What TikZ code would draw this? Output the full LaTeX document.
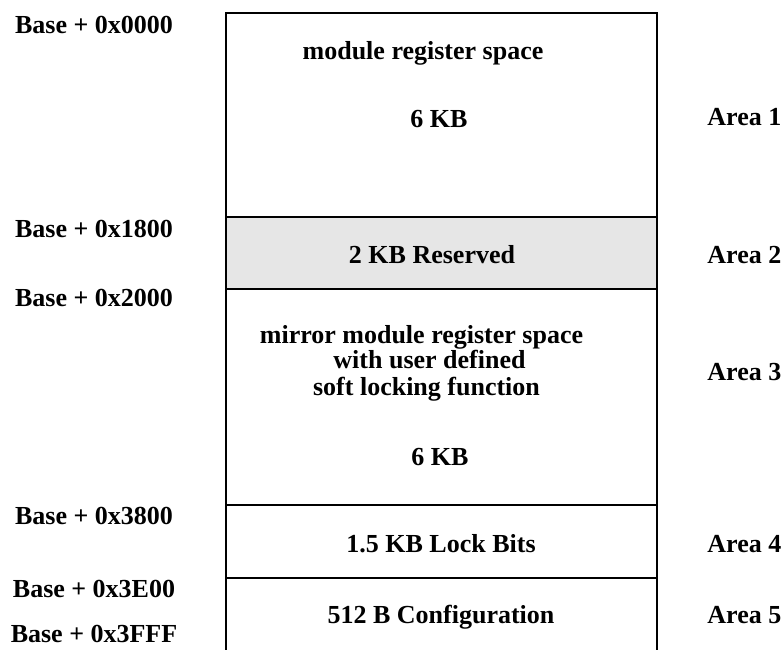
\documentclass[tikz,border=0pt]{standalone}
\usepackage{fontspec}
\setmainfont{Liberation Serif}
\usepackage{xcolor}
\usetikzlibrary{positioning}
\definecolor{resgray}{HTML}{E6E6E6}

\begin{document}
\begin{tikzpicture}[x=1pt, y=-1pt, line width=2.9pt,
    txt/.style={font=\fontsize{26}{30}\selectfont\bfseries, inner sep=0pt, anchor=base},
    area/.style={txt, anchor=base west}]
    \useasboundingbox (0,0) rectangle (782,649);
    \clip (0,0) rectangle (782,649);

    % memory blocks
    \fill[resgray] (226,217) rectangle (657,289);
    \draw (226,700) -- (226,13) -- (657,13) -- (657,700);
    \draw (226,217) -- (657,217);
    \draw (226,289) -- (657,289);
    \draw (226,505) -- (657,505);
    \draw (226,578) -- (657,578);

    % addresses
    \node[txt] (a0000) at (94,33) {Base + 0x0000};
    \node[txt] (a1800) at (94,237) {Base + 0x1800};
    \node[txt] (a2000) at (94,306) {Base + 0x2000};
    \node[txt] (a3800) at (94,524) {Base + 0x3800};
    \node[txt] (a3E00) at (94,597) {Base + 0x3E00};
    \node[txt] (a3FFF) at (94,642) {Base + 0x3FFF};

    % block contents
    \node[txt] (regspace) at (423,59) {module register space};
    \node[txt] (regsize) at (439,127) {6 KB};
    \node[txt] (reserved) at (432,263) {2 KB Reserved};
    \node[txt] (mirror1) at (421.5,343) {mirror module register space};
    \node[txt] (mirror2) at (429.5,368) {with user defined};
    \node[txt] (mirror3) at (426.5,395) {soft locking function};
    \node[txt] (mirrorsize) at (440,465) {6 KB};
    \node[txt] (lockbits) at (441,552) {1.5 KB Lock Bits};
    \node[txt] (config) at (441,623) {512 B Configuration};

    % areas
    \node[area] (area1) at (706,125) {Area 1};
    \node[area] (area2) at (706,263) {Area 2};
    \node[area] (area3) at (706,380) {Area 3};
    \node[area] (area4) at (706,552) {Area 4};
    \node[area] (area5) at (706,623) {Area 5};
\end{tikzpicture}
\end{document}
